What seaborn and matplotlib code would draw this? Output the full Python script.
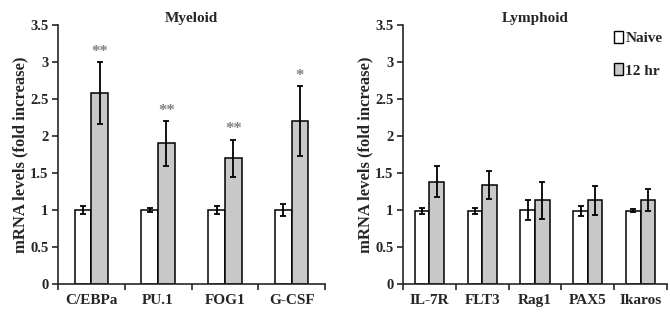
import numpy as np
import pandas as pd
import seaborn as sns
import matplotlib.pyplot as plt
import matplotlib.ticker as ticker
from matplotlib.container import BarContainer

# Data
myeloid_genes = ["C/EBPa", "PU.1", "FOG1", "G-CSF"]
myeloid_naive = [1.0, 1.0, 1.0, 1.0]
myeloid_naive_err = [0.05, 0.03, 0.06, 0.08]
myeloid_12hr = [2.58, 1.90, 1.70, 2.20]
myeloid_12hr_err = [0.42, 0.30, 0.25, 0.47]
myeloid_stars = ["**", "**", "**", "*"]

lymphoid_genes = ["IL-7R", "FLT3", "Rag1", "PAX5", "Ikaros"]
lymphoid_naive = [0.99, 0.99, 1.0, 0.99, 0.99]
lymphoid_naive_err = [0.04, 0.04, 0.13, 0.07, 0.02]
lymphoid_12hr = [1.38, 1.34, 1.13, 1.13, 1.13]
lymphoid_12hr_err = [0.21, 0.19, 0.25, 0.20, 0.15]
lymphoid_stars = ["", "", "", "", ""]

groups = ["Naive", "12 hr"]
colors = ["white", "#c8c8c8"]

sns.set_style("ticks")
plt.rcParams['font.family'] = ['Liberation Serif', 'DejaVu Serif']
plt.rcParams['font.weight'] = 'bold'
plt.rcParams['font.size'] = 10


def make_df(genes, naive, hr):
    return pd.DataFrame({
        "gene": genes * 2,
        "value": naive + hr,
        "group": [groups[0]] * len(genes) + [groups[1]] * len(genes),
    })


def draw_panel(ax, genes, naive, naive_err, hr, hr_err, stars, title, width):
    df = make_df(genes, naive, hr)
    sns.barplot(data=df, x="gene", y="value", hue="group", hue_order=groups,
                palette=colors, edgecolor="black", linewidth=1.1, width=width,
                errorbar=None, legend=False, ax=ax)
    errs = [naive_err, hr_err]
    bars = [c for c in ax.containers if isinstance(c, BarContainer)]
    for k, cont in enumerate(bars):
        xs = [b.get_x() + b.get_width() / 2 for b in cont]
        hs = [b.get_height() for b in cont]
        ax.errorbar(xs, hs, yerr=errs[k], fmt="none", ecolor="black",
                    elinewidth=1.3, capsize=2.5, capthick=1.3)
        if k == 1:
            for x, h, e, s in zip(xs, hs, errs[k], stars):
                if s:
                    ax.text(x, h + e + 0.03, s, ha="center", va="bottom",
                            color="#808080", fontsize=12)
    ax.set_xlim(-0.5, len(genes) - 0.5)
    ax.set_ylim(0, 3.5)
    ax.yaxis.set_major_locator(ticker.MultipleLocator(0.5))
    ax.yaxis.set_major_formatter(ticker.FormatStrFormatter('%g'))
    ax.xaxis.set_minor_locator(ticker.FixedLocator(np.arange(-0.5, len(genes), 1.0)))
    ax.tick_params(axis='x', which='major', length=0, pad=7, labelsize=11)
    ax.tick_params(axis='x', which='minor', length=4, width=1.2)
    ax.tick_params(axis='y', length=4, width=1.2, labelsize=10.5, pad=3)
    ax.set_xlabel("")
    ax.set_ylabel("mRNA levels (fold increase)", fontsize=12, fontweight='bold', labelpad=1)
    ax.set_title(title, fontsize=11, fontweight='bold', pad=1)
    for sp in ["top", "right"]:
        ax.spines[sp].set_visible(False)
    for sp in ["left", "bottom"]:
        ax.spines[sp].set_linewidth(1.2)


fig = plt.figure(figsize=(6.7, 3.17), dpi=100)
ax1 = fig.add_axes([58 / 670, 33 / 317, 267 / 670, 259 / 317])
ax2 = fig.add_axes([403 / 670, 33 / 317, 264 / 670, 259 / 317])

draw_panel(ax1, myeloid_genes, myeloid_naive, myeloid_naive_err,
           myeloid_12hr, myeloid_12hr_err, myeloid_stars, "Myeloid", 0.5)
draw_panel(ax2, lymphoid_genes, lymphoid_naive, lymphoid_naive_err,
           lymphoid_12hr, lymphoid_12hr_err, lymphoid_stars, "Lymphoid", 0.55)

handles = [plt.Rectangle((0, 0), 1, 1, facecolor=c, edgecolor="black", lw=1.0) for c in colors]
ax2.legend(handles, groups, loc="upper right", bbox_to_anchor=(1.035, 1.03),
           frameon=False, handlelength=0.6, handleheight=0.8, handletextpad=0.15,
           labelspacing=1.2, fontsize=11)

fig.savefig("out.png", dpi=100)
